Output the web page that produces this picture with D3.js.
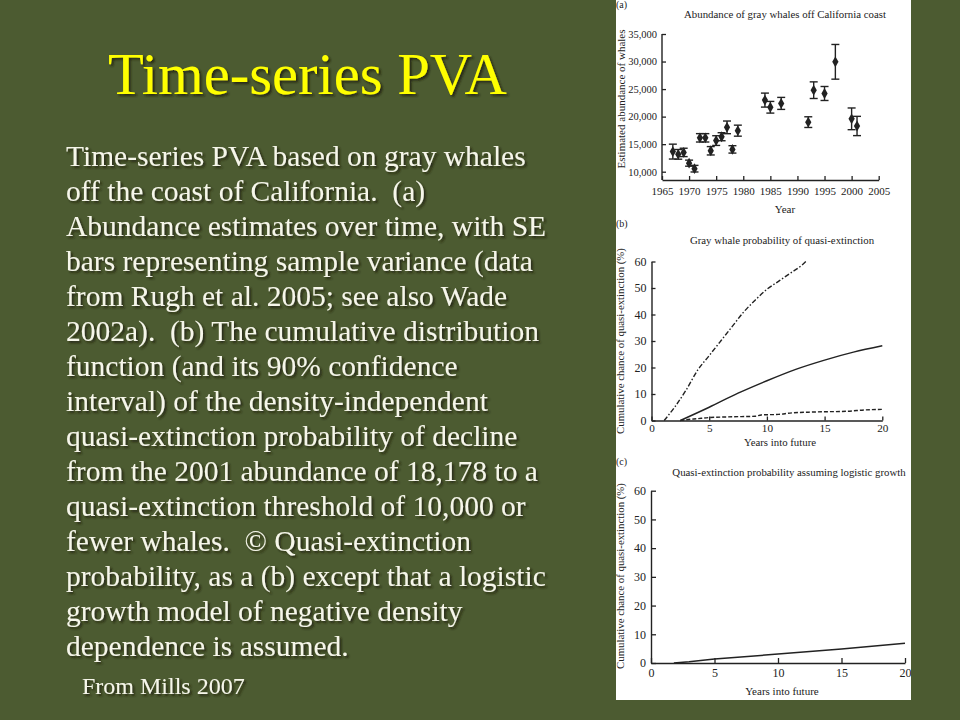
<!DOCTYPE html>
<html>
<head>
<meta charset="utf-8">
<script src="https://cdn.jsdelivr.net/npm/d3@7"></script>
<style>
  html, body { margin: 0; padding: 0; background: #4c5b31; }
  svg { display: block; }
  text { font-family: "Liberation Serif", "Times New Roman", serif; }
</style>
</head>
<body>
<svg id="slide" width="960" height="720"></svg>
<script>
// ---------- Data ----------
const slideTitle = "Time-series PVA";
const bodyLines = [
  "Time-series PVA based on gray whales",
  "off the coast of California.  (a)",
  "Abundance estimates over time, with SE",
  "bars representing sample variance (data",
  "from Rugh et al. 2005; see also Wade",
  "2002a).  (b) The cumulative distribution",
  "function (and its 90% confidence",
  "interval) of the density-independent",
  "quasi-extinction probability of decline",
  "from the 2001 abundance of 18,178 to a",
  "quasi-extinction threshold of 10,000 or",
  "fewer whales.  \u00A9 Quasi-extinction",
  "probability, as a (b) except that a logistic",
  "growth model of negative density",
  "dependence is assumed."
];
const sourceNote = "From Mills 2007";

// Panel (a): abundance estimates
const years     = [1967, 1968, 1969, 1970, 1971, 1972, 1973, 1974, 1975, 1976, 1977, 1978, 1979, 1984, 1985, 1987, 1992, 1993, 1995, 1997, 2000, 2001];
const abundance = [13650, 13150, 13500, 11550, 10550, 16150, 16150, 13800, 15650, 16350, 18050, 14050, 17450, 23000, 21700, 22400, 19000, 24800, 24200, 29950, 19600, 18300];
const seValues  = [1350, 880, 760, 550, 600, 760, 760, 760, 880, 730, 1150, 670, 1000, 1270, 1060, 1090, 970, 1510, 1270, 3150, 1970, 1750];
const yearTicks = [1965, 1970, 1975, 1980, 1985, 1990, 1995, 2000, 2005];
const abundTicks = [10000, 15000, 20000, 25000, 30000, 35000];

// Panel (b): density-independent quasi-extinction CDF and 90% CI
const upperT = [1.1, 2, 3, 4, 5, 6, 7, 8, 9, 10, 11, 12, 13, 13.45];
const upperV = [0, 5, 11.5, 19, 24.5, 30, 35.5, 41, 45.5, 49.5, 52.5, 55.5, 58.5, 60.3];
const midT   = [2.5, 5, 7.5, 10, 12.5, 15, 17.5, 20];
const midV   = [0, 5, 10.3, 15, 19.3, 22.8, 25.8, 28.2];
const lowT   = [2.5, 3, 4, 5, 7, 9, 9.5, 11, 12, 14, 17, 18.5, 20];
const lowV   = [0, 0.3, 0.7, 1.1, 1.4, 1.6, 2.1, 2.3, 2.8, 3.2, 3.5, 4.0, 4.2];

// Panel (c): logistic-growth quasi-extinction
const logT = [1.8, 3, 5, 10, 15, 20];
const logV = [0, 0.4, 1.4, 3.1, 4.9, 6.9];

const futureTicks = [0, 5, 10, 15, 20];
const probTicks = [0, 10, 20, 30, 40, 50, 60];

// ---------- Drawing ----------
const svg = d3.select("#slide");
const defs = svg.append("defs");
const f = defs.append("filter").attr("id", "shadow").attr("x", "-5%").attr("y", "-20%").attr("width", "115%").attr("height", "150%");
f.append("feDropShadow").attr("dx", 2).attr("dy", 2).attr("stdDeviation", 0.8)
  .attr("flood-color", "#1a2010").attr("flood-opacity", 0.85);
defs.append("clipPath").attr("id", "panelClip")
  .append("rect").attr("x", 616).attr("y", 0).attr("width", 295).attr("height", 700);

svg.append("rect").attr("width", 960).attr("height", 720).attr("fill", "#4c5b31");

// Title
svg.append("text").attr("x", 307.5).attr("y", 94).attr("text-anchor", "middle")
  .attr("font-size", 58.6).attr("fill", "#ffff00").attr("filter", "url(#shadow)")
  .text(slideTitle);

// Body text
const body = svg.append("g").attr("filter", "url(#shadow)");
body.selectAll("text.line").data(bodyLines).join("text")
  .attr("class", "line")
  .attr("x", 66).attr("y", (d, i) => 166 + i * 35)
  .attr("font-size", 29.5).attr("fill", "#f6f6ea")
  .style("white-space", "pre")
  .text(d => d);
body.append("text").attr("x", 82).attr("y", 694).attr("font-size", 24)
  .attr("fill", "#f6f6ea").text(sourceNote);

// Figure panel
const panel = svg.append("g").attr("clip-path", "url(#panelClip)");
panel.append("rect").attr("x", 616).attr("y", 0).attr("width", 295).attr("height", 700).attr("fill", "#ffffff");

const ink = "#222";
function styleAxis(g, size) {
  g.select(".domain").attr("stroke", ink).attr("stroke-width", 1.4);
  g.selectAll(".tick line").attr("stroke", ink).attr("stroke-width", 1.3);
  g.selectAll(".tick text").attr("fill", ink).attr("font-size", size)
    .attr("font-family", "'Liberation Serif', serif");
}
function label(txt, x, y, size, anchor, rotate) {
  const t = panel.append("text").attr("font-size", size).attr("fill", ink)
    .attr("text-anchor", anchor || "middle").text(txt);
  if (rotate) t.attr("transform", `translate(${x},${y}) rotate(-90)`);
  else t.attr("x", x).attr("y", y);
  return t;
}

// ---- Panel (a)
{
  const x = d3.scaleLinear().domain([1965, 2005]).range([662, 878.7]);
  const y = d3.scaleLinear().domain([10000, 35000]).range([171.7, 34]);
  const baseY = 180;
  const gx = panel.append("g").attr("transform", `translate(0,${baseY})`)
    .call(d3.axisBottom(x).tickValues(yearTicks).tickFormat(d3.format("d"))
      .tickSizeInner(-4).tickSizeOuter(0).tickPadding(7.5));
  styleAxis(gx, 11);
  const gy = panel.append("g").attr("transform", `translate(${x(1965)},0)`)
    .call(d3.axisLeft(y).tickValues(abundTicks).tickFormat(d3.format(","))
      .tickSizeInner(-4).tickSizeOuter(0).tickPadding(5));
  styleAxis(gy, 10.5);
  gy.select(".domain").attr("d", `M0,${y(35000)}V${baseY}`);
  const pts = years.map((yr, i) => ({yr, v: abundance[i], se: seValues[i]}));
  const eb = panel.append("g").attr("stroke", ink).attr("stroke-width", 1.4);
  eb.selectAll("line.v").data(pts).join("line")
    .attr("x1", d => x(d.yr)).attr("x2", d => x(d.yr))
    .attr("y1", d => y(d.v - d.se)).attr("y2", d => y(d.v + d.se));
  eb.selectAll("line.t").data(pts).join("line")
    .attr("x1", d => x(d.yr) - 4).attr("x2", d => x(d.yr) + 4)
    .attr("y1", d => y(d.v + d.se)).attr("y2", d => y(d.v + d.se));
  eb.selectAll("line.b").data(pts).join("line")
    .attr("x1", d => x(d.yr) - 4).attr("x2", d => x(d.yr) + 4)
    .attr("y1", d => y(d.v - d.se)).attr("y2", d => y(d.v - d.se));
  panel.append("g").selectAll("path").data(pts).join("path")
    .attr("d", d3.symbol().type(d3.symbolDiamond).size(34))
    .attr("transform", d => `translate(${x(d.yr)},${y(d.v)})`)
    .attr("fill", ink);
  label("(a)", 616, 8, 10, "start");
  label("Abundance of gray whales off California coast", 785, 17.5, 10.8);
  label("Year", 785, 213, 11);
  label("Estimated abundance of whales", 625, 99, 11, "middle", true);
}

// ---- Panel (b)
{
  const x = d3.scaleLinear().domain([0, 20]).range([651.5, 882.3]);
  const y = d3.scaleLinear().domain([0, 60]).range([420.5, 261.5]);
  const gx = panel.append("g").attr("transform", `translate(0,${y(0)})`)
    .call(d3.axisBottom(x).tickValues(futureTicks).tickFormat(d3.format("d"))
      .tickSizeInner(-4).tickSizeOuter(0).tickPadding(4));
  styleAxis(gx, 11.2);
  const gy = panel.append("g").attr("transform", `translate(${x(0)},0)`)
    .call(d3.axisLeft(y).tickValues(probTicks).tickFormat(d3.format("d"))
      .tickSizeInner(-4).tickSizeOuter(0).tickPadding(5));
  styleAxis(gy, 12);
  const line = d3.line().x(d => x(d[0])).y(d => y(d[1])).curve(d3.curveMonotoneX);
  const series = [
    {t: upperT, v: upperV, dash: "5,2,1.5,2"},
    {t: midT, v: midV, dash: null},
    {t: lowT, v: lowV, dash: "4,2"}
  ];
  panel.append("g").selectAll("path").data(series).join("path")
    .attr("d", s => line(s.t.map((t, i) => [t, s.v[i]])))
    .attr("fill", "none").attr("stroke", ink).attr("stroke-width", 1.4)
    .attr("stroke-dasharray", s => s.dash);
  label("(b)", 616, 227, 10, "start");
  label("Gray whale probability of quasi-extinction", 782, 244, 10.8);
  label("Years into future", 780, 446, 10.8);
  label("Cumulative chance of quasi-extinction (%)", 624, 341, 10.8, "middle", true);
}

// ---- Panel (c)
{
  const x = d3.scaleLinear().domain([0, 20]).range([651, 905]);
  const y = d3.scaleLinear().domain([0, 60]).range([663, 490.7]);
  const gx = panel.append("g").attr("transform", `translate(0,${y(0)})`)
    .call(d3.axisBottom(x).tickValues(futureTicks).tickFormat(d3.format("d"))
      .tickSizeInner(-5).tickSizeOuter(0).tickPadding(5));
  styleAxis(gx, 12);
  const gy = panel.append("g").attr("transform", `translate(${x(0)},0)`)
    .call(d3.axisLeft(y).tickValues(probTicks).tickFormat(d3.format("d"))
      .tickSizeInner(-5).tickSizeOuter(0).tickPadding(5));
  styleAxis(gy, 12);
  const line = d3.line().x(d => x(d[0])).y(d => y(d[1]));
  panel.append("path")
    .attr("d", line(logT.map((t, i) => [t, logV[i]])))
    .attr("fill", "none").attr("stroke", ink).attr("stroke-width", 1.5);
  label("(c)", 616, 465, 10, "start");
  label("Quasi-extinction probability assuming logistic growth", 789, 476, 10.8);
  label("Years into future", 782, 695, 11);
  label("Cumulative chance of quasi-extinction (%)", 624, 576, 10.8, "middle", true);
}
</script>
</body>
</html>
